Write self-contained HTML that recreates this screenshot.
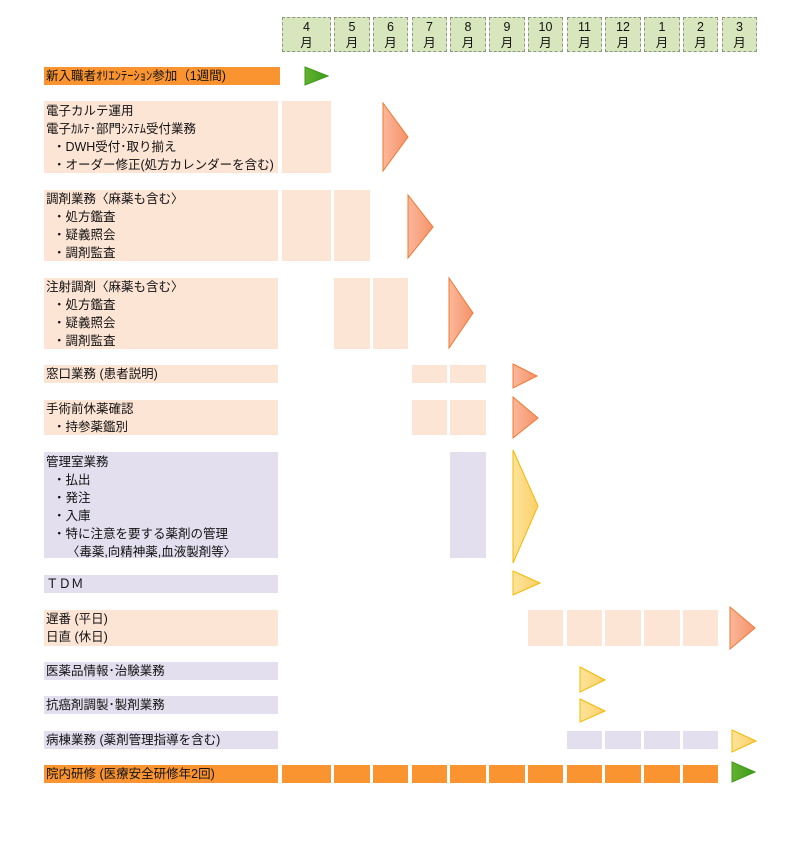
<!DOCTYPE html>
<html><head><meta charset="utf-8"><style>
body{margin:0;background:#fff;width:800px;height:841px;position:relative;overflow:hidden;font-family:"Liberation Sans","Noto Sans CJK JP",sans-serif;font-size:12.5px;color:#111}
.b{position:absolute}
.m{position:absolute;top:17px;height:35px;background:#d8e6bd;border:1px dashed #8a9a80;box-sizing:border-box;text-align:center;line-height:16px;font-size:12.5px;padding-top:1px}
.p{background:#fde5d6}.l{background:#e3dfee}.o{background:#f99431}
.t{position:absolute;left:46px;line-height:18px;white-space:pre}
svg{position:absolute;left:0;top:0}
</style></head><body>
<div class="m" style="left:282px;width:49px">4<br>月</div>
<div class="m" style="left:334px;width:36px">5<br>月</div>
<div class="m" style="left:373px;width:35px">6<br>月</div>
<div class="m" style="left:412px;width:35px">7<br>月</div>
<div class="m" style="left:450px;width:36px">8<br>月</div>
<div class="m" style="left:489px;width:36px">9<br>月</div>
<div class="m" style="left:528px;width:35px">10<br>月</div>
<div class="m" style="left:567px;width:35px">11<br>月</div>
<div class="m" style="left:605px;width:36px">12<br>月</div>
<div class="m" style="left:644px;width:36px">1<br>月</div>
<div class="m" style="left:683px;width:35px">2<br>月</div>
<div class="m" style="left:722px;width:35px">3<br>月</div>

<div class="b o" style="left:44px;top:67px;width:236px;height:18px"></div>
<div class="t" style="top:67px">新入職者ｵﾘｴﾝﾃｰｼｮﾝ参加（1週間)</div>

<div class="b p" style="left:44px;top:101px;width:234px;height:72px"></div>
<div class="b p" style="left:282px;top:101px;width:49px;height:72px"></div>
<div class="t" style="top:102px">電子カルテ運用
電子ｶﾙﾃ･部門ｼｽﾃﾑ受付業務
  ・DWH受付･取り揃え
  ・オーダー修正(処方カレンダーを含む)</div>

<div class="b p" style="left:44px;top:190px;width:234px;height:71px"></div>
<div class="b p" style="left:282px;top:190px;width:49px;height:71px"></div>
<div class="b p" style="left:334px;top:190px;width:36px;height:71px"></div>
<div class="t" style="top:190px">調剤業務〈麻薬も含む〉
  ・処方鑑査
  ・疑義照会
  ・調剤監査</div>

<div class="b p" style="left:44px;top:278px;width:234px;height:71px"></div>
<div class="b p" style="left:334px;top:278px;width:36px;height:71px"></div>
<div class="b p" style="left:373px;top:278px;width:35px;height:71px"></div>
<div class="t" style="top:278px">注射調剤〈麻薬も含む〉
  ・処方鑑査
  ・疑義照会
  ・調剤監査</div>

<div class="b p" style="left:44px;top:365px;width:234px;height:18px"></div>
<div class="b p" style="left:412px;top:365px;width:35px;height:18px"></div>
<div class="b p" style="left:450px;top:365px;width:36px;height:18px"></div>
<div class="t" style="top:365px">窓口業務 (患者説明)</div>

<div class="b p" style="left:44px;top:400px;width:234px;height:35px"></div>
<div class="b p" style="left:412px;top:400px;width:35px;height:35px"></div>
<div class="b p" style="left:450px;top:400px;width:36px;height:35px"></div>
<div class="t" style="top:400px">手術前休薬確認
  ・持参薬鑑別</div>

<div class="b l" style="left:44px;top:452px;width:234px;height:106px"></div>
<div class="b l" style="left:450px;top:452px;width:36px;height:106px"></div>
<div class="t" style="top:453px">管理室業務
  ・払出
  ・発注
  ・入庫
  ・特に注意を要する薬剤の管理
      〈毒薬,向精神薬,血液製剤等〉</div>

<div class="b l" style="left:44px;top:575px;width:234px;height:18px"></div>
<div class="t" style="top:575px">ＴＤＭ</div>

<div class="b p" style="left:44px;top:610px;width:234px;height:36px"></div>
<div class="b p" style="left:528px;top:610px;width:35px;height:36px"></div>
<div class="b p" style="left:567px;top:610px;width:35px;height:36px"></div>
<div class="b p" style="left:605px;top:610px;width:36px;height:36px"></div>
<div class="b p" style="left:644px;top:610px;width:36px;height:36px"></div>
<div class="b p" style="left:683px;top:610px;width:35px;height:36px"></div>
<div class="t" style="top:610px">遅番 (平日)
日直 (休日)</div>

<div class="b l" style="left:44px;top:662px;width:234px;height:18px"></div>
<div class="t" style="top:662px">医薬品情報･治験業務</div>
<div class="b l" style="left:44px;top:696px;width:234px;height:18px"></div>
<div class="t" style="top:696px">抗癌剤調製･製剤業務</div>

<div class="b l" style="left:44px;top:731px;width:234px;height:18px"></div>
<div class="b l" style="left:567px;top:731px;width:35px;height:18px"></div>
<div class="b l" style="left:605px;top:731px;width:36px;height:18px"></div>
<div class="b l" style="left:644px;top:731px;width:36px;height:18px"></div>
<div class="b l" style="left:683px;top:731px;width:35px;height:18px"></div>
<div class="t" style="top:731px">病棟業務 (薬剤管理指導を含む)</div>

<div class="b o" style="left:44px;top:765px;width:234px;height:18px"></div>
<div class="b o" style="left:282px;top:765px;width:49px;height:18px"></div>
<div class="b o" style="left:334px;top:765px;width:36px;height:18px"></div>
<div class="b o" style="left:373px;top:765px;width:35px;height:18px"></div>
<div class="b o" style="left:412px;top:765px;width:35px;height:18px"></div>
<div class="b o" style="left:450px;top:765px;width:36px;height:18px"></div>
<div class="b o" style="left:489px;top:765px;width:36px;height:18px"></div>
<div class="b o" style="left:528px;top:765px;width:35px;height:18px"></div>
<div class="b o" style="left:567px;top:765px;width:35px;height:18px"></div>
<div class="b o" style="left:605px;top:765px;width:36px;height:18px"></div>
<div class="b o" style="left:644px;top:765px;width:36px;height:18px"></div>
<div class="b o" style="left:683px;top:765px;width:35px;height:18px"></div>
<div class="t" style="top:765px">院内研修 (医療安全研修年2回)</div>

<svg width="800" height="841">
<defs>
<linearGradient id="r" x1="0" x2="1"><stop offset="0" stop-color="#fbb79a"/><stop offset="1" stop-color="#f5926a"/></linearGradient>
<linearGradient id="y" x1="0" x2="1"><stop offset="0" stop-color="#fde49a"/><stop offset="1" stop-color="#fbcf6a"/></linearGradient>
<linearGradient id="g" x1="0" x2="1"><stop offset="0" stop-color="#62b22f"/><stop offset="1" stop-color="#3e9a1a"/></linearGradient>
</defs>
<g stroke-width="1">
<polygon points="305,67 328,76 305,85" fill="url(#g)" stroke="#3e9a1a"/>
<polygon points="383,103 408,137 383,171" fill="url(#r)" stroke="#f07830"/>
<polygon points="408,195 433,227 408,258" fill="url(#r)" stroke="#f07830"/>
<polygon points="449,278 473,313 449,348" fill="url(#r)" stroke="#f07830"/>
<polygon points="513,364 537,376 513,388" fill="url(#r)" stroke="#f07830"/>
<polygon points="513,397 538,418 513,438" fill="url(#r)" stroke="#f07830"/>
<polygon points="513,450 538,506 513,563" fill="url(#y)" stroke="#f5b800"/>
<polygon points="513,571 540,583 513,595" fill="url(#y)" stroke="#f5b800"/>
<polygon points="730,607 755,628 730,649" fill="url(#r)" stroke="#f07830"/>
<polygon points="580,667 605,680 580,692" fill="url(#y)" stroke="#f5b800"/>
<polygon points="580,699 605,711 580,722" fill="url(#y)" stroke="#f5b800"/>
<polygon points="732,730 756,741 732,752" fill="url(#y)" stroke="#f5b800"/>
<polygon points="732,762 755,772 732,782" fill="url(#g)" stroke="#3e9a1a"/>
</g>
</svg>
</body></html>
